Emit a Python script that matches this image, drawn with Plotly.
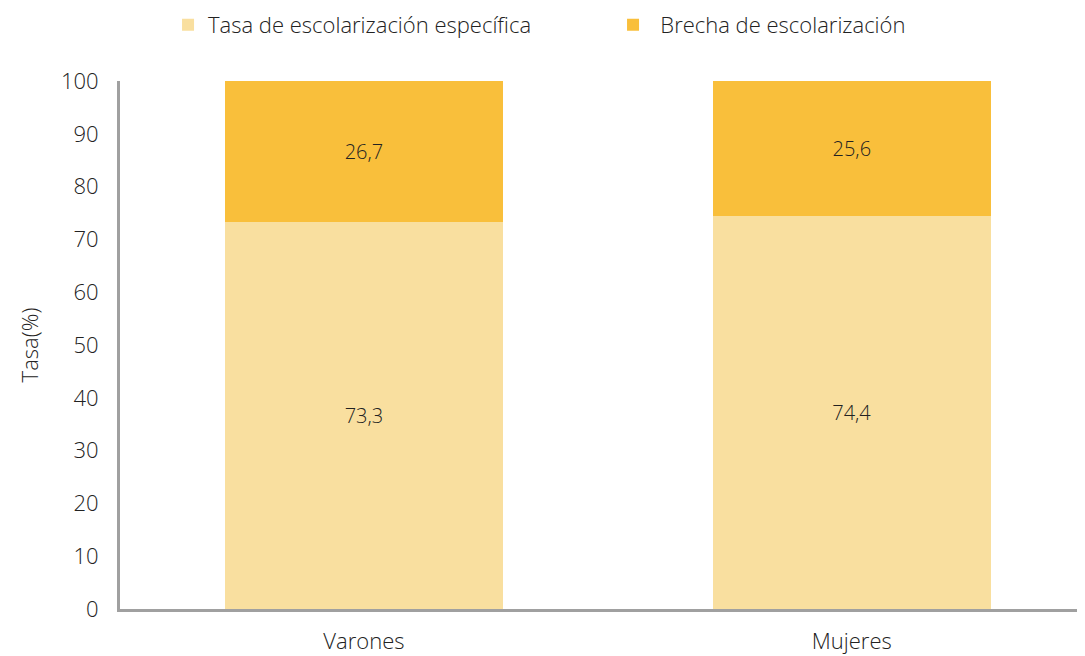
import plotly.graph_objects as go

categorias = ["Varones", "Mujeres"]
tasa_especifica = [73.3, 74.4]
brecha = [26.7, 25.6]
y_ticks = [0, 10, 20, 30, 40, 50, 60, 70, 80, 90, 100]

FONT = "Open Sans"
TXT = "#222222"
SIZE = 22

fig = go.Figure()
fig.add_trace(go.Bar(
    x=categorias, y=tasa_especifica, name="Tasa de escolarización específica",
    marker=dict(color="#F9DF9F", line=dict(width=0)),
    text=[f"{v:.1f}".replace(".", ",") for v in tasa_especifica],
    textposition="inside", insidetextanchor="middle",
    textfont=dict(family=FONT, size=20, color=TXT, weight=300),
    width=0.57,
))
fig.add_trace(go.Bar(
    x=categorias, y=brecha, name="\u2004Brecha de escolarización",
    marker=dict(color="#F9BF3B", line=dict(width=0)),
    text=[f"{v:.1f}".replace(".", ",") for v in brecha],
    textposition="inside", insidetextanchor="middle",
    textfont=dict(family=FONT, size=20, color=TXT, weight=300),
    width=0.57,
))

# the page body adds an 8px offset, so the figure is sized 8px smaller
fig.update_layout(
    barmode="stack",
    width=1077, height=648,
    margin=dict(l=112, r=0, t=73, b=47),
    plot_bgcolor="white", paper_bgcolor="white",
    font=dict(family=FONT, size=SIZE, color=TXT, weight=300),
    showlegend=True,
    legend=dict(
        orientation="h", xref="container", x=0.1486, xanchor="left",
        yref="container", y=0.974, yanchor="middle",
        font=dict(family=FONT, size=SIZE, color=TXT, weight=300),
        entrywidth=400, entrywidthmode="pixels",
        itemwidth=30, traceorder="normal",
    ),
)
fig.update_xaxes(
    range=[-0.5, 1.478], showline=True, linecolor="#A0A0A0", linewidth=3,
    ticks="", showgrid=False, tickfont=dict(size=SIZE, color=TXT),
    ticklabelstandoff=11, automargin=False,
)
fig.update_yaxes(
    range=[0, 100], tickvals=y_ticks, showline=True, linecolor="#A0A0A0",
    linewidth=3, ticks="", showgrid=False, zeroline=False,
    title=dict(text="Tasa(%)", font=dict(size=SIZE, color=TXT), standoff=17),
    tickfont=dict(size=SIZE, color=TXT), ticklabelstandoff=14,
)

fig.write_html("out.html")
